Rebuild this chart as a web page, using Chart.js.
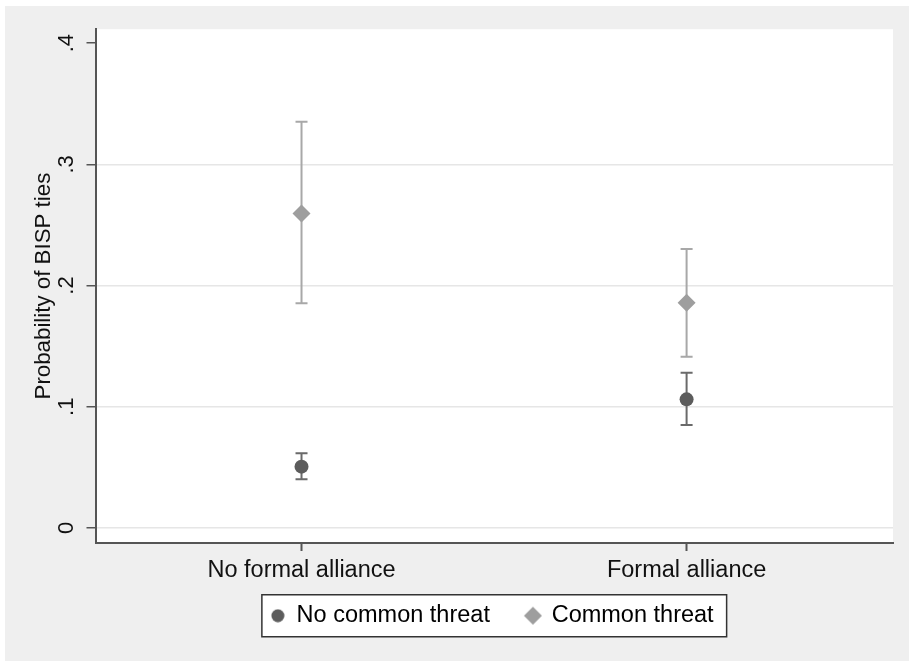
<!DOCTYPE html>
<html>
<head>
<meta charset="utf-8">
<script src="https://cdn.jsdelivr.net/npm/chart.js@4.4.1/dist/chart.umd.min.js"></script>
<style>
  html, body { margin: 0; padding: 0; background: #fff; }
  #wrap { position: absolute; left: 5px; top: 6px; width: 904px; height: 655px; background: #efefef; }
  canvas { display: block; }
</style>
</head>
<body>
<div id="wrap"><canvas id="chart" width="904" height="655"></canvas></div>
<script>
// --- Données ---
const categories = ['No formal alliance', 'Formal alliance'];
const seriesNames = ['No common threat', 'Common threat'];
const noThreatEst = [0.0506, 0.1061];
const noThreatLow = [0.0402, 0.0849];
const noThreatHigh = [0.0616, 0.1281];
const threatEst = [0.2595, 0.1858];
const threatLow = [0.1853, 0.1413];
const threatHigh = [0.3351, 0.2301];
const yTicks = [0, 0.1, 0.2, 0.3, 0.4];
const yTickLabels = ['0', '.1', '.2', '.3', '.4'];

const DARK = '#5c5c5c';
const LIGHT = '#9e9e9e';

Chart.defaults.font.family = "'Liberation Sans', Arial, sans-serif";
Chart.defaults.color = '#111';

// petit marqueur pour la légende (taille différente du cercle et du losange)
function marker(kind, color) {
  const c = document.createElement('canvas');
  const s = kind === 'circle' ? 14 : 20;
  c.width = s; c.height = s;
  const g = c.getContext('2d');
  g.fillStyle = color;
  g.beginPath();
  if (kind === 'circle') {
    g.arc(7, 7, 6.5, 0, Math.PI * 2);
  } else {
    g.moveTo(10, 1); g.lineTo(19, 10); g.lineTo(10, 19); g.lineTo(1, 10); g.closePath();
  }
  g.fill();
  return c;
}
const legendMarkers = [marker('circle', DARK), marker('diamond', LIGHT)];

// --- Intervalles de confiance (rcap) ---
const errorBars = {
  id: 'errorBars',
  beforeDatasetsDraw(chart) {
    const { ctx, scales: { x, y } } = chart;
    chart.data.datasets.forEach(ds => {
      ctx.save();
      ctx.strokeStyle = ds.barColor;
      ctx.lineWidth = 2;
      ds.low.forEach((lo, i) => {
        const px = x.getPixelForValue(i);
        const y1 = y.getPixelForValue(lo);
        const y2 = y.getPixelForValue(ds.high[i]);
        ctx.beginPath();
        ctx.moveTo(px, y1); ctx.lineTo(px, y2);
        ctx.moveTo(px - 6, y1); ctx.lineTo(px + 6, y1);
        ctx.moveTo(px - 6, y2); ctx.lineTo(px + 6, y2);
        ctx.stroke();
      });
      ctx.restore();
    });
  }
};

// --- Légende remontée juste sous les libellés de l'axe x ---
const legendPlace = {
  id: 'legendPlace',
  afterLayout(chart) {
    const lg = chart.legend;
    const h = lg.bottom - lg.top;
    lg.top = chart.chartArea.bottom + 25;
    lg.bottom = lg.top + h;
    lg.left -= 2;
    lg.right -= 2;
  }
};

// --- Fond blanc du graphique + cadre de la légende ---
const backdrop = {
  id: 'backdrop',
  beforeDraw(chart) {
    const { ctx, chartArea: a, legend } = chart;
    ctx.save();
    ctx.fillStyle = '#fff';
    ctx.fillRect(a.left, a.top, a.right - a.left, a.bottom - a.top);
    const hb = legend.legendHitBoxes;
    if (hb && hb.length) {
      const cy = hb[0].top + hb[0].height / 2;
      const left = hb[0].left - 9;
      const last = hb[hb.length - 1];
      const right = last.left + last.width + 13;
      ctx.fillRect(left, cy - 21, right - left, 42);
      ctx.strokeStyle = '#333';
      ctx.lineWidth = 1.5;
      ctx.strokeRect(left, cy - 21, right - left, 42);
    }
    ctx.restore();
  }
};

new Chart(document.getElementById('chart'), {
  type: 'scatter',
  data: {
    datasets: [{
      label: seriesNames[0],
      data: noThreatEst.map((v, i) => ({ x: i, y: v })),
      low: noThreatLow,
      high: noThreatHigh,
      barColor: '#6a6a6a',
      pointStyle: 'circle',
      pointRadius: 7,
      backgroundColor: DARK,
      borderWidth: 0
    }, {
      label: seriesNames[1],
      data: threatEst.map((v, i) => ({ x: i, y: v })),
      low: threatLow,
      high: threatHigh,
      barColor: '#a8a8a8',
      pointStyle: 'rectRot',
      pointRadius: 9,
      backgroundColor: LIGHT,
      borderWidth: 0
    }]
  },
  options: {
    responsive: false,
    animation: false,
    layout: { padding: { left: 0, right: 16, top: 23, bottom: 0 } },
    plugins: {
      tooltip: { enabled: false },
      legend: {
        position: 'bottom',
        fullSize: false,
        labels: {
          usePointStyle: true,
          boxWidth: 14,
          boxHeight: 14,
          padding: 36,
          font: { size: 23.5 },
          color: '#111',
          generateLabels: chart => chart.data.datasets.map((ds, i) => ({
            text: ds.label,
            pointStyle: legendMarkers[i],
            fillStyle: ds.backgroundColor,
            strokeStyle: ds.backgroundColor,
            lineWidth: 0,
            hidden: false,
            datasetIndex: i
          }))
        }
      }
    },
    scales: {
      x: {
        type: 'linear',
        bounds: 'data',
        min: -0.535,
        max: 1.536,
        afterBuildTicks: s => { s.ticks = categories.map((_, i) => ({ value: i })); },
        afterFit: s => { s.height = 48.5; },
        ticks: {
          callback: (v, i) => categories[i],
          font: { size: 23.5 },
          color: '#111',
          padding: 5,
          autoSkip: false,
          maxRotation: 0
        },
        grid: { drawOnChartArea: false, tickLength: 8, tickColor: '#555', tickWidth: 2 },
        border: { color: '#555', width: 2 }
      },
      y: {
        bounds: 'data',
        min: -0.0124,
        max: 0.4115,
        afterBuildTicks: s => { s.ticks = yTicks.map(v => ({ value: v })); },
        afterFit: s => { s.width = 90.5; },
        ticks: {
          callback: (v, i) => yTickLabels[i],
          font: { size: 22 },
          color: '#111',
          minRotation: 90,
          maxRotation: 90,
          crossAlign: 'center',
          padding: 10,
          autoSkip: false
        },
        grid: {
          color: c => (c.tick && c.tick.value >= 0.4) ? 'rgba(0,0,0,0)' : '#e6e6e6',
          lineWidth: 1.5,
          tickLength: 9,
          tickColor: '#555',
          tickWidth: 1.5
        },
        border: { color: '#555', width: 2 },
        title: {
          display: true,
          text: 'Probability of BISP ties',
          font: { size: 22.3 },
          color: '#111',
          padding: { top: 25, bottom: 0 }
        }
      }
    }
  },
  plugins: [legendPlace, backdrop, errorBars]
});
</script>
</body>
</html>
